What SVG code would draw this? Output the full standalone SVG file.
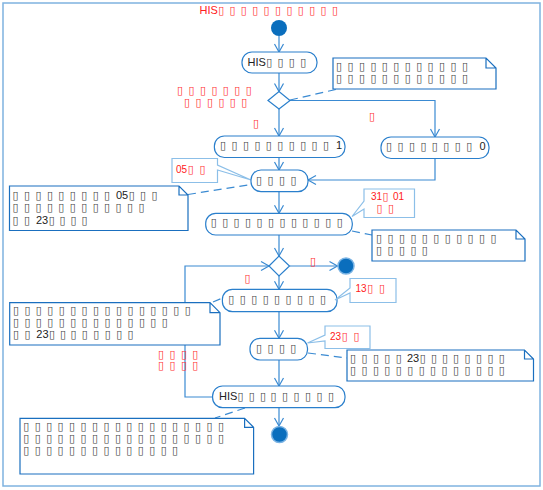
<svg xmlns="http://www.w3.org/2000/svg" width="543" height="490" viewBox="0 0 543 490">
<style>
.frame{fill:none;stroke:#7fb3e0;stroke-width:1.5}
.node rect{fill:#fff;stroke:#2a7fcc;stroke-width:1.2}
.dia{fill:#fff;stroke:#2a7fcc;stroke-width:1.2}
.note path{fill:#fff;stroke:#1a6fbf;stroke-width:1.2}
.call path{fill:#fff;stroke:#8cbfe8;stroke-width:1.2}
.edge{fill:none;stroke:#3a8ad2;stroke-width:1.2}
.dash{fill:none;stroke:#3a8ad2;stroke-width:1.2;stroke-dasharray:8 5}
.b{font-family:"DejaVu Sans",sans-serif;font-size:11px;fill:#444}
.r{font-family:"DejaVu Sans",sans-serif;font-size:11px;fill:#ff3030}
.t{font-family:"Liberation Sans",Arial,sans-serif;font-size:11px;fill:#222}
.tr{font-family:"Liberation Sans",Arial,sans-serif;font-size:11px;fill:#ff2020}
.s{font-size:10px}
</style>
<defs>
<marker id="arr" markerUnits="userSpaceOnUse" markerWidth="12" markerHeight="12" viewBox="0 0 12 12" refX="9" refY="6" orient="auto">
<path d="M1,1.5 L9,6 L1,10.5" fill="none" stroke="#3a8ad2" stroke-width="1.2"/>
</marker>
</defs>
<rect class="frame" x="3" y="3" width="537" height="483"/>
<text id="title" y="14"><tspan class="tr" x="199.5">HIS</tspan><tspan class="r" x="218.2 229.4 240.8 252.2 263.6 275 286.4 297.8 309.2 320.6 332">▯▯▯▯▯▯▯▯▯▯▯</tspan></text>

<g id="connectors">
<line class="edge" x1="279" y1="36" x2="279" y2="52" marker-end="url(#arr)"/>
<line class="edge" x1="279" y1="73" x2="279" y2="91.5" marker-end="url(#arr)"/>
<line class="edge" x1="279" y1="109" x2="279" y2="136" marker-end="url(#arr)"/>
<polyline class="edge" points="290,100.5 435,100.5 435,137" marker-end="url(#arr)"/>
<line class="edge" x1="279" y1="157.5" x2="279" y2="170" marker-end="url(#arr)"/>
<polyline class="edge" points="435,158.5 435,180 308,180" marker-end="url(#arr)"/>
<line class="edge" x1="279" y1="191.7" x2="279" y2="213.3" marker-end="url(#arr)"/>
<line class="edge" x1="279" y1="235" x2="279" y2="256" marker-end="url(#arr)"/>
<line class="edge" x1="289.5" y1="266" x2="337.5" y2="266" marker-end="url(#arr)"/>
<line class="edge" x1="279" y1="276" x2="279" y2="289.3" marker-end="url(#arr)"/>
<line class="edge" x1="279" y1="311.7" x2="279" y2="338.3" marker-end="url(#arr)"/>
<line class="edge" x1="279" y1="360" x2="279" y2="386" marker-end="url(#arr)"/>
<polyline class="edge" points="212.6,397 185,397 185,266 269,266" marker-end="url(#arr)"/>
<line class="edge" x1="279" y1="407.7" x2="279" y2="426" marker-end="url(#arr)"/>
<line class="dash" x1="290" y1="100" x2="338" y2="89"/>
<line class="dash" x1="188" y1="194.5" x2="251" y2="184.5"/>
<line class="dash" x1="352" y1="231" x2="372" y2="235"/>
<line class="dash" x1="213" y1="302" x2="222.4" y2="298"/>
<line class="dash" x1="308" y1="353" x2="347" y2="358"/>
<line class="dash" x1="245" y1="408" x2="215" y2="418"/>
</g>

<g id="start"><circle cx="279" cy="28" r="8" fill="#0a6ebd"/></g>

<g id="n1" class="node"><rect x="242" y="52" width="75" height="21" rx="10"/>
<text y="66"><tspan class="t" x="247.5">HIS</tspan><tspan class="b" x="266.2 277.4 288.8 300.2">▯▯▯▯</tspan></text></g>

<g id="d1"><polygon class="dia" points="268,100.5 279,91.5 290,100.5 279,109"/></g>
<g id="d1-label"><text class="r" y="94" x="177 188.5 200 211.4 222.8 234.3 245.7">▯▯▯▯▯▯▯</text>
<text class="r" y="105.5" x="184 195.5 207 218.4 229.8 241.3">▯▯▯▯▯▯</text></g>
<text id="lbl-yes1" class="r" x="253" y="126.5">▯</text>
<text id="lbl-no1" class="r" x="369" y="120">▯</text>

<g id="note1" class="note"><path d="M333,58 H486 L496,68 V89 H333 Z M486,58 V68 H496"/>
<text class="b" y="70" x="336 347.5 358.9 370.4 381.8 393.3 404.7 416.2 427.6 439.1 450.5 462">▯▯▯▯▯▯▯▯▯▯▯▯</text>
<text class="b" y="82" x="336 347.5 358.9 370.4 381.8 393.3 404.7 416.2 427.6 439.1 450.5 462">▯▯▯▯▯▯▯▯▯▯▯▯</text></g>

<g id="n2" class="node"><rect x="214.4" y="136" width="130.6" height="21.5" rx="10"/>
<text y="149"><tspan class="b" x="220 231.5 242.9 254.4 265.8 277.3 288.7 300.2 311.6 323.1">▯▯▯▯▯▯▯▯▯▯</tspan><tspan class="t" x="336">1</tspan></text></g>

<g id="n3" class="node"><rect x="381" y="137" width="108" height="21.5" rx="10"/>
<text y="150"><tspan class="b" x="386 397.5 408.9 420.4 431.8 443.3 454.7 466.2">▯▯▯▯▯▯▯▯</tspan><tspan class="t" x="479.5">0</tspan></text></g>

<g id="call1" class="call"><path d="M172,158.5 H217.5 V165 L251,180 L217.5,170 V182.5 H172 Z"/>
<text y="172.5"><tspan class="tr s" x="176">05</tspan><tspan class="r" x="187.8 199.5">▯▯</tspan></text></g>

<g id="n4" class="node"><rect x="251" y="170" width="57" height="21.7" rx="10"/>
<text class="b" y="184" x="256 267.5 279 290.4">▯▯▯▯</text></g>

<g id="note2" class="note"><path d="M9.5,186 H179 L188,195 V230.5 H9.5 Z M179,186 V195 H188"/>
<text y="198.5"><tspan class="b" x="12.5 24 35.4 46.9 58.3 69.8 81.2 92.7 104.1">▯▯▯▯▯▯▯▯▯</tspan><tspan class="t" x="116">05</tspan><tspan class="b" x="128.8 140 151.4">▯▯▯</tspan></text>
<text class="b" y="211" x="12.5 24 35.4 46.9 58.3 69.8 81.2 92.7 104.1 115.6 127 138.5">▯▯▯▯▯▯▯▯▯▯▯▯</text>
<text y="223.5"><tspan class="b" x="12.5 24">▯▯</tspan><tspan class="t" x="36">23</tspan><tspan class="b" x="48.8 59.4 70.4 81.6">▯▯▯▯</tspan></text></g>

<g id="n5" class="node"><rect x="205.7" y="213.3" width="146.6" height="21.7" rx="10"/>
<text class="b" y="226" x="210.7 222.2 233.6 245.1 256.5 268 279.4 290.9 302.3 313.8 325.2 336.7">▯▯▯▯▯▯▯▯▯▯▯▯</text></g>

<g id="call2" class="call"><path d="M364,189 H414.5 V217.5 H364 V209 L352,216.5 L364,201 Z"/>
<text y="200"><tspan class="tr s" x="371">31</tspan><tspan class="r" x="382.6">▯</tspan><tspan class="tr s" x="393">01</tspan></text>
<text class="r" y="212" x="376.5 388">▯▯</text></g>

<g id="note3" class="note"><path d="M372,230 H516 L525,239 V261 H372 Z M516,230 V239 H525"/>
<text class="b" y="242" x="376 387.5 398.9 410.4 421.8 433.3 444.7 456.2 467.6 479.1 490.5">▯▯▯▯▯▯▯▯▯▯▯</text>
<text class="b" y="254" x="376 387.5 398.9 410.4 421.8">▯▯▯▯▯</text></g>

<g id="d2"><polygon class="dia" points="269,266 279,256 289.5,266 279,276"/></g>
<text id="lbl-no2" class="r" x="310" y="265">▯</text>
<text id="lbl-yes2" class="r" x="244.5" y="282">▯</text>

<g id="end1"><circle cx="346" cy="266" r="8" fill="#0a6ebd" stroke="#7ab3e3" stroke-width="1.5"/></g>

<g id="n6" class="node"><rect x="222.4" y="289.3" width="114.6" height="22.4" rx="10"/>
<text class="b" y="303" x="228.3 239.8 251.2 262.7 274.1 285.6 297 308.5 319.9">▯▯▯▯▯▯▯▯▯</text></g>

<g id="call3" class="call"><path d="M350,278.5 H396 V302.5 H350 V293 L335,300 L350,288 Z"/>
<text y="292"><tspan class="tr s" x="355.5">13</tspan><tspan class="r" x="367.2 379">▯▯</tspan></text></g>

<g id="note5" class="note"><path d="M9.7,302.7 H210 L220,312.7 V345 H9.7 Z M210,302.7 V312.7 H220"/>
<text class="b" y="314" x="12.9 24.4 35.8 47.3 58.7 70.2 81.6 93.1 104.5 116 127.4 138.9 150.3 161.8 173.2 184.7">▯▯▯▯▯▯▯▯▯▯▯▯▯▯▯▯</text>
<text class="b" y="326" x="12.9 24.4 35.8 47.3 58.7 70.2 81.6 93.1 104.5 116 127.4 138.9 150.3 161.8">▯▯▯▯▯▯▯▯▯▯▯▯▯▯</text>
<text y="338"><tspan class="b" x="12.9 24.4">▯▯</tspan><tspan class="t" x="36.3">23</tspan><tspan class="b" x="49.1 59.9 70.4 81.8 93.3 104.7 116.2 127.6">▯▯▯▯▯▯▯▯</tspan></text></g>

<g id="loop-label"><text class="r" y="357.5" x="158 169.4 180.9 192.3">▯▯▯▯</text>
<text class="r" y="369" x="158 169.4 180.9 192.3">▯▯▯▯</text></g>

<g id="n7" class="node"><rect x="250" y="338.3" width="57.5" height="21.7" rx="10"/>
<text class="b" y="352" x="256 267.4 278.9 290.3">▯▯▯▯</text></g>

<g id="call4" class="call"><path d="M325,326 H370 V348.5 H325 V341 L307.5,343 L325,335 Z"/>
<text y="340"><tspan class="tr s" x="330">23</tspan><tspan class="r" x="341.8 353.5">▯▯</tspan></text></g>

<g id="note4" class="note"><path d="M347,350 H524.5 L533.5,359 V381 H347 Z M524.5,350 V359 H533.5"/>
<text y="361.5"><tspan class="b" x="350 361.4 372.9 384.3 395.8">▯▯▯▯▯</tspan><tspan class="t" x="407">23</tspan><tspan class="b" x="419.8 431 442 453 464.5 475.9 487.4 498.8">▯▯▯▯▯▯▯▯</tspan></text>
<text class="b" y="374" x="350 361.4 372.9 384.3 395.8 407.2 418.7 430.1 441.6 453 464.5 475.9 487.4 498.8">▯▯▯▯▯▯▯▯▯▯▯▯▯▯</text></g>

<g id="n8" class="node"><rect x="212.6" y="386" width="132.4" height="21.7" rx="10"/>
<text y="400"><tspan class="t" x="219">HIS</tspan><tspan class="b" x="237.6 248.7 259.9 270.6 282.1 293.5 305 316.4 327.9">▯▯▯▯▯▯▯▯▯</tspan></text></g>

<g id="end2"><circle cx="279.5" cy="434.5" r="8" fill="#0a6ebd" stroke="#7ab3e3" stroke-width="1.5"/></g>

<g id="note6" class="note"><path d="M20,418.3 H244.6 L253.6,427.3 V474 H20 Z M244.6,418.3 V427.3 H253.6"/>
<text class="b" y="430" x="23.3 34.7 46.2 57.6 69.1 80.5 92 103.4 114.9 126.3 137.8 149.2 160.7 172.1 183.6 195 206.5 217.9">▯▯▯▯▯▯▯▯▯▯▯▯▯▯▯▯▯▯</text>
<text class="b" y="442" x="23.3 34.7 46.2 57.6 69.1 80.5 92 103.4 114.9 126.3 137.8 149.2 160.7 172.1 183.6 195 206.5 217.9">▯▯▯▯▯▯▯▯▯▯▯▯▯▯▯▯▯▯</text>
<text class="b" y="454" x="23.3 34.7 46.2 57.6 69.1 80.5 92 103.4 114.9 126.3 137.8 149.2 160.7 172.1">▯▯▯▯▯▯▯▯▯▯▯▯▯▯</text></g>
</svg>
